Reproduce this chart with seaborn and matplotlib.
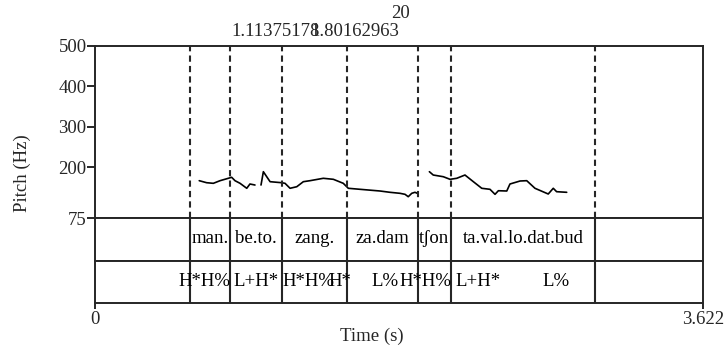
import matplotlib
matplotlib.use("Agg")
import matplotlib.pyplot as plt
import seaborn as sns
import pandas as pd
import numpy as np

sns.set_theme(style="white")
plt.rcParams['font.family'] = ['Liberation Serif', 'DejaVu Serif']

# ---------------- data ----------------
t_max = 3.622
boundaries = [0.566, 0.804, 1.114, 1.501, 1.924, 2.120, 2.978]

syll_labels = ["man.", "be.to.", "zang.", "za.dam", "tʃon", "ta.val.lo.dat.bud"]
tone_labels = ["H*H%", "L+H*", "H*H%", "H*", "L%", "H*H%", "L+H*", "L%"]
tone_times = [0.655, 0.959, 1.269, 1.460, 1.728, 1.966, 2.282, 2.746]

seg1_t = [0.621, 0.665, 0.705, 0.745, 0.794, 0.814, 0.834, 0.864, 0.904, 0.923, 0.953]
seg1_hz = [167.2, 162.2, 160.7, 167.2, 173.1, 175.6, 167.2, 160.7, 148.4, 159.0, 156.5]
seg2_t = [0.989, 1.003, 1.023, 1.043, 1.112, 1.132, 1.162, 1.202, 1.241, 1.281, 1.360,
          1.420, 1.479, 1.509, 1.579, 1.698, 1.757, 1.817, 1.847, 1.866, 1.887, 1.906, 1.920]
seg2_hz = [156.5, 189.4, 177.0, 164.7, 162.2, 160.7, 148.4, 152.3, 164.7, 167.2, 173.1,
           170.6, 160.7, 148.4, 145.9, 141.7, 138.5, 136.0, 133.5, 127.6, 136.0, 138.5, 136.0]
seg3_t = [1.992, 2.015, 2.075, 2.115, 2.155, 2.204, 2.254, 2.304, 2.353, 2.383, 2.403,
          2.453, 2.472, 2.532, 2.572, 2.621, 2.700, 2.730, 2.750, 2.810]
seg3_hz = [189.4, 181.2, 177.0, 170.6, 173.1, 181.2, 164.7, 148.4, 145.9, 133.5, 142.4,
           141.7, 159.0, 166.4, 167.2, 148.4, 134.3, 148.4, 140.0, 138.5]

y_ticks = [75, 200, 300, 400, 500]
x_tick_vals = [0, 3.622]
x_tick_labels = ["0", "3.622"]
cursor_labels = ["1.11375178", "1.80162963", "20"]

df = pd.concat([
    pd.DataFrame({"t": seg1_t, "hz": seg1_hz, "seg": 1}),
    pd.DataFrame({"t": seg2_t, "hz": seg2_hz, "seg": 2}),
    pd.DataFrame({"t": seg3_t, "hz": seg3_hz, "seg": 3}),
])

# ---------------- layout ----------------
W, H = 726, 345
fig = plt.figure(figsize=(W / 100, H / 100), dpi=100)
fig.patch.set_facecolor("white")

def rect(x0, y0, x1, y1):
    return [x0 / W, 1 - y1 / H, (x1 - x0) / W, (y1 - y0) / H]

LC = "#262626"
LW = 1.4
FS = 13.5

ax = fig.add_axes(rect(95, 46, 703, 218))
ax1 = fig.add_axes(rect(95, 218, 703, 261))
ax2 = fig.add_axes(rect(95, 261, 703, 303))

sns.lineplot(data=df, x="t", y="hz", units="seg", estimator=None, color="black",
             lw=1.2, ax=ax, legend=False)
ax.set_xlim(0, t_max)
ax.set_ylim(75, 500)
ax.set_yticks(y_ticks)
ax.set_yticklabels([str(v) for v in y_ticks], fontsize=FS)
ax.set_xticks([])
ax.set_xlabel("")
ax.set_ylabel("")
ax.tick_params(axis="y", direction="out", length=6, width=LW, color=LC, left=True, pad=0)
for b in boundaries:
    ax.axvline(b, color=LC, lw=1.5, ls=(0, (3, 2)))

for a in (ax1, ax2):
    a.set_xlim(0, t_max)
    a.set_ylim(0, 1)
    a.set_yticks([])
    for b in boundaries:
        a.axvline(b, color=LC, lw=1.5)

ax1.set_xticks([])
ax2.set_xticks(x_tick_vals)
ax2.set_xticklabels(x_tick_labels, fontsize=FS)
ax2.tick_params(axis="x", direction="out", length=4, width=LW, color=LC, bottom=True, pad=2)

for a in (ax, ax1, ax2):
    for s in a.spines.values():
        s.set_color(LC)
        s.set_linewidth(LW)
        s.set_visible(True)

edges = boundaries
for i, lab in enumerate(syll_labels):
    c = (edges[i] + edges[i + 1]) / 2
    ax1.text(c, 0.52, lab, ha="center", va="center", fontsize=FS, color="black")

for tt, lab in zip(tone_times, tone_labels):
    ax2.text(tt, 0.5, lab, ha="center", va="center", fontsize=FS, color="black")

fig.text(22 / W, 1 - 173 / H, "Pitch (Hz)", rotation=90, ha="center", va="center", fontsize=FS)
fig.text(372 / W, 1 - 336 / H, "Time (s)", ha="center", va="center", fontsize=FS)

fig.text(231 / W, 1 - 31 / H, cursor_labels[0], ha="left", va="center", fontsize=FS)
fig.text(399 / W, 1 - 31 / H, cursor_labels[1], ha="right", va="center", fontsize=FS)
fig.text(400 / W, 1 - 14 / H, cursor_labels[2], ha="center", va="center", fontsize=FS)

fig.savefig("out.png", dpi=100, facecolor="white")
